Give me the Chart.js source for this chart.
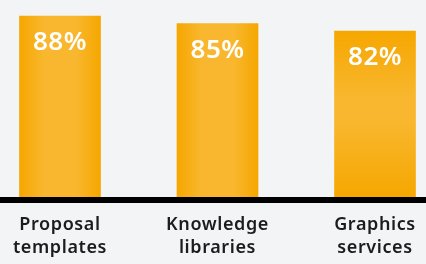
<!DOCTYPE html>
<html>
<head>
<meta charset="utf-8">
<script src="https://cdn.jsdelivr.net/npm/chart.js@4.4.0/dist/chart.umd.min.js"></script>
<style>
  html, body { margin: 0; padding: 0; background: #f3f4f6; }
  #wrap { width: 426px; height: 264px; }
</style>
</head>
<body>
<div id="wrap"><canvas id="chart"></canvas></div>
<script>
const categories = [['Proposal', 'templates'], ['Knowledge', 'libraries'], ['Graphics', 'services']];
const values = [88, 85, 82];
const valueLabels = ['88%', '85%', '82%'];

const EDGE = '#f6a700';
const MID = '#f8b72e';
const BAR_W = 81;
const Y_MIN = 15.6;

function barFill(context) {
    const chart = context.chart;
    const area = chart.chartArea;
    if (!area) return EDGE;
    const c = chart.ctx;
    const i = context.dataIndex;
    let g;
    if (i === 2) {
        // last bar fades top to bottom
        g = c.createLinearGradient(0, chart.scales.y.getPixelForValue(values[i]), 0, area.bottom);
        g.addColorStop(0, EDGE);
        g.addColorStop(0.4, MID);
        g.addColorStop(0.55, MID);
        g.addColorStop(1, EDGE);
    } else {
        const cx = chart.scales.x.getPixelForValue(i);
        g = c.createLinearGradient(cx - BAR_W / 2, 0, cx + BAR_W / 2, 0);
        g.addColorStop(0, EDGE);
        g.addColorStop(0.3, MID);
        g.addColorStop(0.7, MID);
        g.addColorStop(1, EDGE);
    }
    return g;
}

// baseline, value text and category labels
const decor = {
    id: 'decor',
    afterDatasetsDraw(chart) {
        const c = chart.ctx;
        const area = chart.chartArea;
        const x = chart.scales.x;
        const y = chart.scales.y;
        c.save();
        c.fillStyle = '#000';
        c.fillRect(0, area.bottom, chart.width, 6);

        c.textAlign = 'center';
        c.fillStyle = '#ffffff';
        c.font = '600 26px "Noto Sans"';
        c.letterSpacing = '0.5px';
        c.textBaseline = 'middle';
        values.forEach((v, i) => {
            c.fillText(valueLabels[i], x.getPixelForValue(i), y.getPixelForValue(v) + 27);
        });

        c.fillStyle = '#1c1c1c';
        c.font = '600 18px "Noto Sans"';
        c.letterSpacing = '0.6px';
        c.textBaseline = 'alphabetic';
        categories.forEach((lines, i) => {
            lines.forEach((t, j) => {
                c.fillText(t, x.getPixelForValue(i), area.bottom + 33 + j * 23);
            });
        });
        c.restore();
    }
};

new Chart(document.getElementById('chart'), {
    type: 'bar',
    data: {
        labels: categories,
        datasets: [{
            data: values,
            base: Y_MIN,
            backgroundColor: barFill,
            borderWidth: 0,
            barThickness: BAR_W,
            clip: { left: false, right: false, top: 0, bottom: 0 }
        }]
    },
    options: {
        responsive: true,
        maintainAspectRatio: false,
        animation: false,
        layout: { padding: { left: 60, right: 51, top: 0, bottom: 67 } },
        plugins: { legend: { display: false }, tooltip: { enabled: false } },
        scales: {
            x: { display: false, offset: false },
            y: { display: false, min: Y_MIN, max: 94.4 }
        }
    },
    plugins: [decor]
});
</script>
</body>
</html>
